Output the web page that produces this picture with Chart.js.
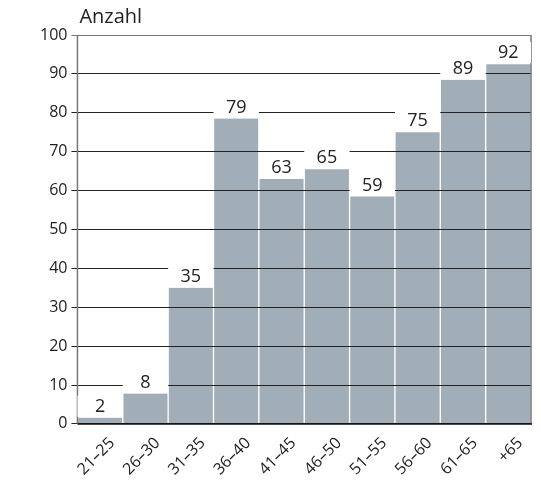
<!DOCTYPE html>
<html>
<head>
<meta charset="utf-8">
<script src="https://cdn.jsdelivr.net/npm/chart.js@4"></script>
<style>
  html, body { margin: 0; padding: 0; background: #fff; }
  #wrap { width: 541px; height: 481px; }
</style>
</head>
<body>
<div id="wrap"><canvas id="anzahlChart" width="541" height="481"></canvas></div>
<script>
const kategorien = ['21–25', '26–30', '31–35', '36–40', '41–45', '46–50', '51–55', '56–60', '61–65', '+65'];
const werte = [1.6, 7.8, 35, 78.5, 63, 65.5, 58.5, 75, 88.5, 92.5];
const beschriftung = ['2', '8', '35', '79', '63', '65', '59', '75', '89', '92'];
const yTicks = [0, 10, 20, 30, 40, 50, 60, 70, 80, 90, 100];

const fontName = '"Open Sans", "DejaVu Sans", sans-serif';

// Rahmen, Werte ueber den Balken mit weissem Hintergrund, Titel
const overlay = {
    id: 'overlay',
    afterDraw(chart) {
        const { ctx, chartArea } = chart;
        const y = chart.scales.y;
        ctx.save();
        ctx.strokeStyle = '#777';
        ctx.lineWidth = 1.5;
        ctx.beginPath();
        ctx.moveTo(chartArea.left, chartArea.bottom);
        ctx.lineTo(chartArea.left, chartArea.top);
        ctx.moveTo(chartArea.right, chartArea.top);
        ctx.lineTo(chartArea.right, chartArea.bottom);
        ctx.stroke();
        ctx.strokeStyle = '#111';
        ctx.beginPath();
        ctx.moveTo(chartArea.left, chartArea.bottom);
        ctx.lineTo(chartArea.right + 1, chartArea.bottom);
        ctx.stroke();

        ctx.font = '18px ' + fontName;
        ctx.textAlign = 'center';
        ctx.textBaseline = 'bottom';
        const meta = chart.getDatasetMeta(0);
        meta.data.forEach((bar, i) => {
            const w = bar.width;
            const top = y.getPixelForValue(werte[i]);
            ctx.fillStyle = '#fff';
            ctx.fillRect(bar.x - w / 2, top - 22, w, 21);
            ctx.fillStyle = '#222';
            ctx.fillText(beschriftung[i], bar.x, top - 2);
        });

        ctx.font = '20px ' + fontName;
        ctx.textAlign = 'left';
        ctx.textBaseline = 'alphabetic';
        ctx.fillStyle = '#222';
        ctx.fillText('Anzahl', chartArea.left + 2, 23);
        ctx.restore();
    }
};

const ctx = document.getElementById('anzahlChart').getContext('2d');
new Chart(ctx, {
    type: 'bar',
    data: {
        labels: kategorien,
        datasets: [{
            label: 'Anzahl',
            data: werte,
            backgroundColor: '#a1aeb8',
            borderColor: '#fff',
            borderWidth: { left: 1, right: 1, top: 0, bottom: 0 },
            borderSkipped: 'bottom',
            categoryPercentage: 1,
            barPercentage: 1
        }]
    },
    options: {
        responsive: false,
        animation: false,
        layout: { padding: { top: 35, right: 10, left: 36, bottom: 0 } },
        plugins: {
            legend: { display: false },
            tooltip: { enabled: false }
        },
        scales: {
            x: {
                grid: { display: false },
                border: { display: false },
                ticks: {
                    color: '#222',
                    padding: 2,
                    labelOffset: 12,
                    font: { family: fontName, size: 16 },
                    maxRotation: 45,
                    minRotation: 45
                }
            },
            y: {
                min: 0,
                max: 100,
                afterBuildTicks: (axis) => { axis.ticks = yTicks.map(v => ({ value: v })); },
                grid: {
                    z: 1,
                    color: (c) => c.tick.value === 100 ? '#777' : '#222',
                    lineWidth: 1,
                    tickLength: 6
                },
                border: { display: false },
                ticks: {
                    color: '#222',
                    padding: 4,
                    font: { family: fontName, size: 16 }
                }
            }
        }
    },
    plugins: [overlay]
});
</script>
</body>
</html>
